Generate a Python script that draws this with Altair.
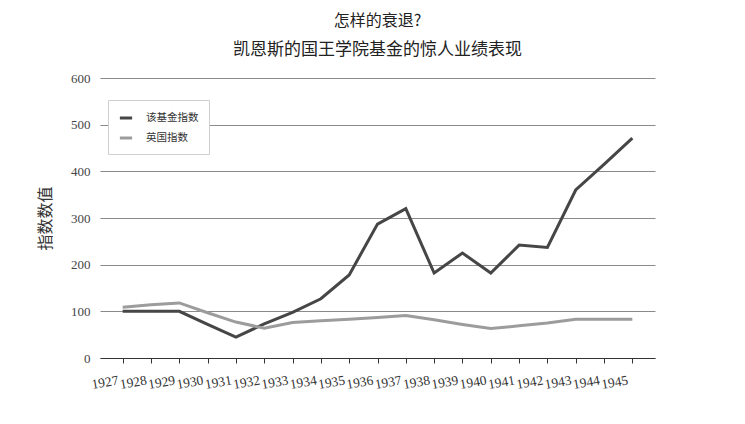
import altair as alt
import pandas as pd

years = [str(y) for y in range(1927, 1946)]
fund = [100, 100, 100, 72, 45, 73, 98, 127, 178, 287, 320, 182, 225, 182, 242, 237, 360, 415, 471]
uk = [109, 114, 118, 97, 77, 64, 76, 80, 83, 87, 91, 82, 72, 63, 69, 75, 83, 83, 83]
series_names = ["该基金指数", "英国指数"]

rows = []
for name, vals in zip(series_names, [fund, uk]):
    for y, v in zip(years, vals):
        rows.append({"year": y, "value": v, "series": name})
df = pd.DataFrame(rows)

serif = "Liberation Serif"
cjk = "Noto Sans CJK SC"

chart = alt.Chart(df).mark_line(strokeWidth=3).encode(
    x=alt.X("year:O", sort=years,
            scale=alt.Scale(type="point", padding=0.8),
            axis=alt.Axis(title=None, labelAngle=-10, labelAlign="right", labelBaseline="top",
                          labelFont=serif, labelFontSize=13.5, labelColor="#333",
                          domainColor="#333", domainWidth=1.2, tickColor="#333", tickSize=5,
                          labelPadding=10, labelOffset=-6, grid=False)),
    y=alt.Y("value:Q", scale=alt.Scale(domain=[0, 600], nice=False),
            axis=alt.Axis(values=[0, 100, 200, 300, 400, 500, 600], title="指数数值",
                          titleFont=cjk, titleFontSize=16, titleFontWeight="normal", titleColor="#333",
                          titleX=-47, titleY=140, titleAngle=270,
                          labelFont=serif, labelFontSize=13, labelColor="#444",
                          labelPadding=10, domain=False, ticks=False,
                          grid=True, gridColor="#8a8a8a", gridWidth=1)),
    color=alt.Color("series:N", sort=series_names,
                    scale=alt.Scale(domain=series_names, range=["#464646", "#9c9c9c"]),
                    legend=alt.Legend(title=None, orient="none", legendX=8, legendY=22,
                                      symbolType="stroke", symbolStrokeWidth=3, symbolSize=150,
                                      labelFont=cjk, labelFontSize=10.5, labelColor="#333",
                                      fillColor="white", strokeColor="#cfcfcf", padding=10,
                                      rowPadding=6, labelOffset=12)),
).properties(
    width=555, height=280,
    title=alt.TitleParams(text="怎样的衰退?", subtitle="凯恩斯的国王学院基金的惊人业绩表现",
                          font=cjk, fontSize=16, fontWeight="normal", color="#222",
                          subtitleFont=cjk, subtitleFontSize=17, subtitleColor="#222",
                          subtitlePadding=13, anchor="middle", offset=14),
    autosize=alt.AutoSizeParams(type="none"),
    padding={"left": 92, "top": 70, "right": 80, "bottom": 50},
).configure(background="white").configure_view(strokeWidth=0)

chart.save("out.html", embed_options={"renderer": "svg", "actions": False})
